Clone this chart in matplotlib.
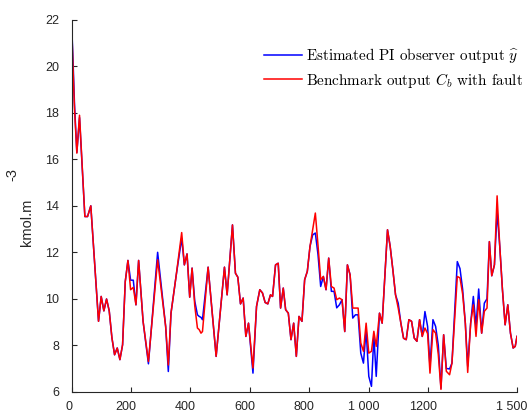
import matplotlib
matplotlib.use("Agg")
import matplotlib.pyplot as plt
from matplotlib.lines import Line2D
from matplotlib.transforms import ScaledTranslation

# ---- data ----
x = [0, 5, 10, 18, 27, 45, 54, 65, 91, 100, 109, 118, 127, 136, 145, 154, 163, 172,
     181, 190, 199, 208, 217, 226, 241, 259, 290, 317, 326, 335, 352, 371, 380, 389,
     398, 406, 415, 424, 430, 436, 441, 460, 487, 515, 524, 542, 552, 560, 569, 578,
     587, 596, 611, 623, 634, 643, 652, 661, 670, 677, 687, 696, 704, 713, 721, 730,
     739, 748, 757, 766, 776, 785, 794, 803, 812, 821, 830, 839, 848, 857, 866, 875,
     884, 893, 902, 911, 920, 929, 938, 947, 956, 965, 974, 983, 992, 1001, 1010,
     1018, 1026, 1037, 1046, 1064, 1073, 1082, 1091, 1100, 1109, 1118, 1127, 1136,
     1145, 1154, 1163, 1172, 1181, 1190, 1199, 1207, 1217, 1226, 1235, 1244, 1253,
     1262, 1273, 1281, 1299, 1308, 1317, 1326, 1334, 1344, 1353, 1362, 1371, 1381,
     1390, 1399, 1407, 1415, 1424, 1433, 1442, 1451, 1460, 1469, 1478, 1487, 1494, 1500]

benchmark = [22.0, 20.0, 18.2, 16.27, 17.9, 13.54, 13.54, 14.0, 9.03, 10.1, 9.48, 9.99,
             9.48, 8.33, 7.59, 7.88, 7.38, 8.02, 10.74, 11.65, 10.39, 10.49, 9.74, 11.65,
             9.03, 7.3, 11.68, 8.81, 7.15, 9.38, 10.96, 12.85, 11.46, 11.93, 10.07, 11.32,
             9.7, 8.74, 8.67, 8.52, 8.59, 11.36, 7.52, 11.36, 10.17, 13.18, 11.1, 10.93,
             9.78, 10.03, 8.38, 8.95, 7.02, 9.67, 10.39, 10.25, 9.84, 9.78, 10.17, 10.1,
             11.46, 11.53, 9.6, 10.46, 9.53, 9.38, 8.24, 8.95, 7.52, 9.24, 9.03, 10.82,
             11.18, 12.25, 12.97, 13.69, 12.3, 10.82, 10.96, 10.39, 11.75, 10.53, 10.46,
             9.96, 10.03, 9.96, 8.59, 11.46, 11.03, 9.6, 9.6, 9.6, 8.1, 7.74, 8.95, 7.66,
             7.74, 8.6, 7.95, 9.38, 8.95, 12.97, 12.25, 11.25, 10.17, 9.6, 8.95, 8.3, 8.24,
             9.1, 9.03, 8.31, 8.17, 9.1, 8.38, 8.74, 8.5, 6.8, 8.67, 8.52, 7.6, 6.1, 8.45,
             6.88, 6.73, 7.23, 10.96, 10.9, 10.2, 8.95, 6.83, 8.95, 9.74, 8.38, 9.96, 8.52,
             9.46, 9.6, 12.46, 10.99, 11.46, 14.43, 12.25, 10.39, 8.88, 9.74, 8.52, 7.88,
             7.95, 8.38]

estimated = [22.0, 20.3, 18.4, 16.3, 17.8, 13.54, 13.54, 14.0, 9.03, 10.1, 9.48, 9.99,
             9.48, 8.33, 7.59, 7.88, 7.38, 8.02, 10.74, 11.65, 10.8, 10.8, 9.74, 11.65,
             9.03, 7.2, 12.0, 8.81, 6.87, 9.38, 10.96, 12.6, 11.46, 11.93, 10.07, 11.32,
             9.9, 9.31, 9.24, 9.2, 9.1, 11.36, 7.52, 11.36, 10.17, 13.18, 11.1, 10.93,
             9.78, 10.03, 8.38, 8.95, 6.8, 9.67, 10.39, 10.25, 9.84, 9.78, 10.17, 10.1,
             11.46, 11.53, 9.6, 10.46, 9.53, 9.38, 8.24, 8.95, 7.52, 9.24, 9.03, 10.82,
             11.18, 12.25, 12.75, 12.83, 11.9, 10.53, 10.96, 10.39, 11.75, 10.32, 10.32,
             9.61, 9.74, 9.96, 8.59, 11.46, 11.03, 9.17, 9.31, 9.31, 7.66, 7.23, 8.67, 6.66,
             6.23, 8.4, 6.66, 9.38, 8.95, 12.97, 12.25, 11.25, 10.17, 9.81, 8.95, 8.3, 8.24,
             9.1, 9.03, 8.31, 8.17, 9.1, 8.38, 9.45, 8.81, 7.09, 9.1, 8.81, 8.0, 6.15, 8.45,
             7.0, 6.98, 7.23, 11.6, 11.3, 10.4, 8.95, 7.1, 8.95, 10.1, 8.81, 10.42, 8.52,
             9.81, 10.0, 12.46, 10.99, 11.46, 13.75, 12.25, 10.39, 8.88, 9.74, 8.52, 7.88,
             7.95, 8.38]

xticks = [0, 200, 400, 600, 800, 1000, 1200, 1500]
xticklabels = ["0", "200", "400", "600", "800", "1 000", "1200", "1 500"]
yticks = [6, 8, 10, 12, 14, 16, 18, 20, 22]

label_est = r"Estimated PI observer output $\widehat{y}$"
label_bench = r"Benchmark output $C_b$ with fault"

# ---- figure ----
plt.rcParams["mathtext.fontset"] = "cm"
fig = plt.figure(figsize=(5.28, 4.16), dpi=100)
ax = fig.add_axes([71.5 / 528, 1 - 391.7 / 416, (517 - 71.5) / 528, (391.7 - 20) / 416])

ax.plot(x, estimated, color="#0000ff", lw=1.1)
ax.plot(x, benchmark, color="#ff0000", lw=1.1)

ax.set_xlim(0, 1500)
ax.set_ylim(6, 22)
ax.set_xticks(xticks)
ax.set_xticklabels(xticklabels)
ax.set_yticks(yticks)

for s in ["top", "right"]:
    ax.spines[s].set_visible(False)
for s in ["left", "bottom"]:
    ax.spines[s].set_color("#262626")
    ax.spines[s].set_linewidth(0.8)

ax.tick_params(direction="in", length=3.6, width=0.8, color="#262626",
               labelcolor="#262626", labelsize=9)
ax.tick_params(axis="y", pad=9)
ax.tick_params(axis="x", pad=7)
for lab in ax.get_xticklabels() + ax.get_yticklabels():
    lab.set_fontfamily("Liberation Sans")
for i, lab in enumerate(ax.get_xticklabels()):
    dx = -2 if i == 0 else -5
    lab.set_transform(lab.get_transform() + ScaledTranslation(dx / 100, 0, fig.dpi_scale_trans))

# y label: kmol.m^-3 with offset exponent
fig.text(27 / 528, 1 - 222 / 416, "kmol.m", rotation=90, ha="center", va="center",
         fontsize=10.5, family="Liberation Sans", color="#262626")
fig.text(12 / 528, 1 - 175 / 416, "-3", rotation=90, ha="center", va="center",
         fontsize=10.5, family="Liberation Sans", color="#262626")

handles = [Line2D([], [], color="#0000ff", lw=1.1),
           Line2D([], [], color="#ff0000", lw=1.1)]
leg = ax.legend(handles, [label_est, label_bench], frameon=False,
                loc="upper left", bbox_to_anchor=(264 / 528, 1 - 46 / 416),
                bbox_transform=fig.transFigure,
                prop={"family": "cmr10", "size": 10.9},
                handlelength=2.5, handletextpad=0.25, labelspacing=0.38,
                borderpad=0, borderaxespad=0)

fig.savefig("out.png", dpi=100)
